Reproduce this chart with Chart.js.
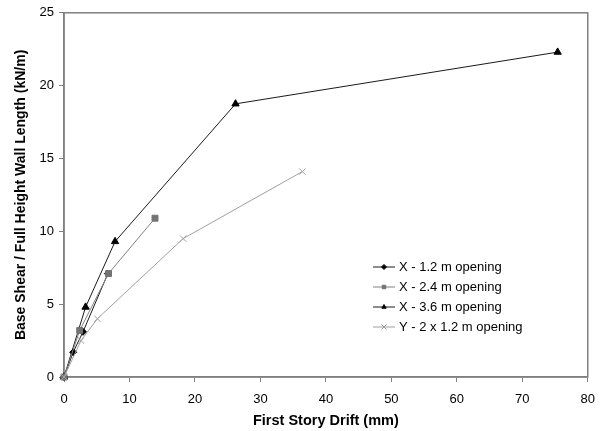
<!DOCTYPE html>
<html>
<head>
<meta charset="utf-8">
<script src="https://cdn.jsdelivr.net/npm/chart.js@4.4.1/dist/chart.umd.min.js"></script>
<style>
  html, body { margin: 0; padding: 0; background: #fff; }
  #wrap { width: 605px; height: 431px; }
</style>
</head>
<body>
<div id="wrap"><canvas id="c" width="605" height="431"></canvas></div>
<script>
'use strict';

// Values (drift in mm, base shear in kN/m).
const x12Drift = [0, 1.4, 2.9, 6.7];
const x12Shear = [0, 1.7, 3.1, 7.1];
const x24Drift = [0, 2.4, 6.8, 13.9];
const x24Shear = [0, 3.2, 7.1, 10.9];
const x36Drift = [0, 3.3, 7.8, 26.2, 75.4];
const x36Shear = [0, 4.8, 9.3, 18.75, 22.3];
const y12Drift = [0, 2.6, 5.1, 18.2, 36.4];
const y12Shear = [0, 2.5, 4.0, 9.5, 14.1];

const seriesNames = ['X - 1.2 m opening', 'X - 2.4 m opening', 'X - 3.6 m opening', 'Y - 2 x 1.2 m opening'];
const xTicks = [0, 10, 20, 30, 40, 50, 60, 70, 80];
const yTicks = [0, 5, 10, 15, 20, 25];

const FONT = '"Liberation Sans", Arial, sans-serif';
const AXIS = '#808080';

function pts(xs, ys) {
  return xs.map(function (x, i) { return { x: x, y: ys[i] }; });
}

function series(label, xs, ys, color, lineColor, style, radius) {
  return {
    label: label,
    data: pts(xs, ys),
    showLine: true,
    clip: false,            // markers at the origin sit on the axes, uncut
    borderColor: lineColor,
    borderWidth: 1,
    backgroundColor: color,
    pointBackgroundColor: color,
    pointBorderColor: color,
    pointBorderWidth: 1,
    pointStyle: style,
    pointRadius: radius,
    tension: 0,
  };
}

const datasets = [
  series(seriesNames[3], y12Drift, y12Shear, '#a0a0a0', '#a0a0a0', 'crossRot', 4.5),
  series(seriesNames[1], x24Drift, x24Shear, '#737373', '#808080', 'rect', 4.2),
  series(seriesNames[0], x12Drift, x12Shear, '#000000', '#1a1a1a', 'rectRot', 3.5),
  series(seriesNames[2], x36Drift, x36Shear, '#000000', '#1a1a1a', 'triangle', 4.2),
];
// legend order as in the reference
const legendOrder = [2, 1, 3, 0];

// Grey frame round the plot area + the in-plot legend (no border).
const framePlugin = {
  id: 'frame',
  beforeDatasetsDraw: function (chart) {
    const ctx = chart.ctx;
    const a = chart.chartArea;
    ctx.save();
    ctx.strokeStyle = AXIS;
    ctx.lineWidth = 1.5;
    ctx.strokeRect(a.left, a.top, a.right - a.left, a.bottom - a.top);
    ctx.restore();
  },
  afterDraw: function (chart) {
    const ctx = chart.ctx;
    ctx.save();
    ctx.font = '13px ' + FONT;
    ctx.textBaseline = 'middle';
    ctx.textAlign = 'left';
    legendOrder.forEach(function (di, row) {
      const ds = chart.data.datasets[di];
      const y = 267 + row * 20;
      ctx.strokeStyle = ds.borderColor;
      ctx.lineWidth = 1;
      ctx.beginPath();
      ctx.moveTo(373, y);
      ctx.lineTo(395, y);
      ctx.stroke();
      ctx.fillStyle = ds.pointBackgroundColor;
      ctx.strokeStyle = ds.pointBorderColor;
      Chart.helpers.drawPoint(ctx, {
        pointStyle: ds.pointStyle,
        radius: ds.pointStyle === 'crossRot' ? 3.5 : 2.5,
        borderWidth: 1,
        rotation: 0,
      }, 384, y);
      ctx.fillStyle = '#000';
      ctx.fillText(ds.label, 399, y);
    });
    ctx.restore();
  },
};

new Chart(document.getElementById('c').getContext('2d'), {
  type: 'scatter',
  data: { datasets: datasets },
  options: {
    responsive: false,
    animation: false,
    layout: { padding: { left: 0, right: 17, top: 12, bottom: 0 } },
    plugins: { legend: { display: false }, tooltip: { enabled: false } },
    scales: {
      x: {
        type: 'linear',
        min: 0, max: 80,
        afterBuildTicks: function (s) { s.ticks = xTicks.map(function (v) { return { value: v }; }); },
        afterFit: function (s) { s.height = 54; },
        ticks: { color: '#000', font: { family: FONT, size: 13 }, padding: 10 },
        grid: { drawOnChartArea: false, drawTicks: true, tickLength: 5, color: AXIS, lineWidth: 1 },
        border: { color: AXIS, width: 1.5 },
        title: {
          display: true, text: 'First Story Drift (mm)', color: '#000',
          font: { family: FONT, size: 14.5, weight: 'bold' }, padding: { top: 4, bottom: 1 },
        },
      },
      y: {
        type: 'linear',
        min: 0, max: 25,
        afterBuildTicks: function (s) { s.ticks = yTicks.map(function (v) { return { value: v }; }); },
        afterFit: function (s) { s.width = 64; },
        ticks: { color: '#000', font: { family: FONT, size: 13 }, padding: 5 },
        grid: { drawOnChartArea: false, drawTicks: true, tickLength: 5, color: AXIS, lineWidth: 1 },
        border: { color: AXIS, width: 1.5 },
        title: {
          display: true, text: 'Base Shear / Full Height Wall Length (kN/m)', color: '#000',
          font: { family: FONT, size: 14, weight: 'bold' }, padding: { top: 13, bottom: 0 },
        },
      },
    },
  },
  plugins: [framePlugin],
});
</script>
</body>
</html>
